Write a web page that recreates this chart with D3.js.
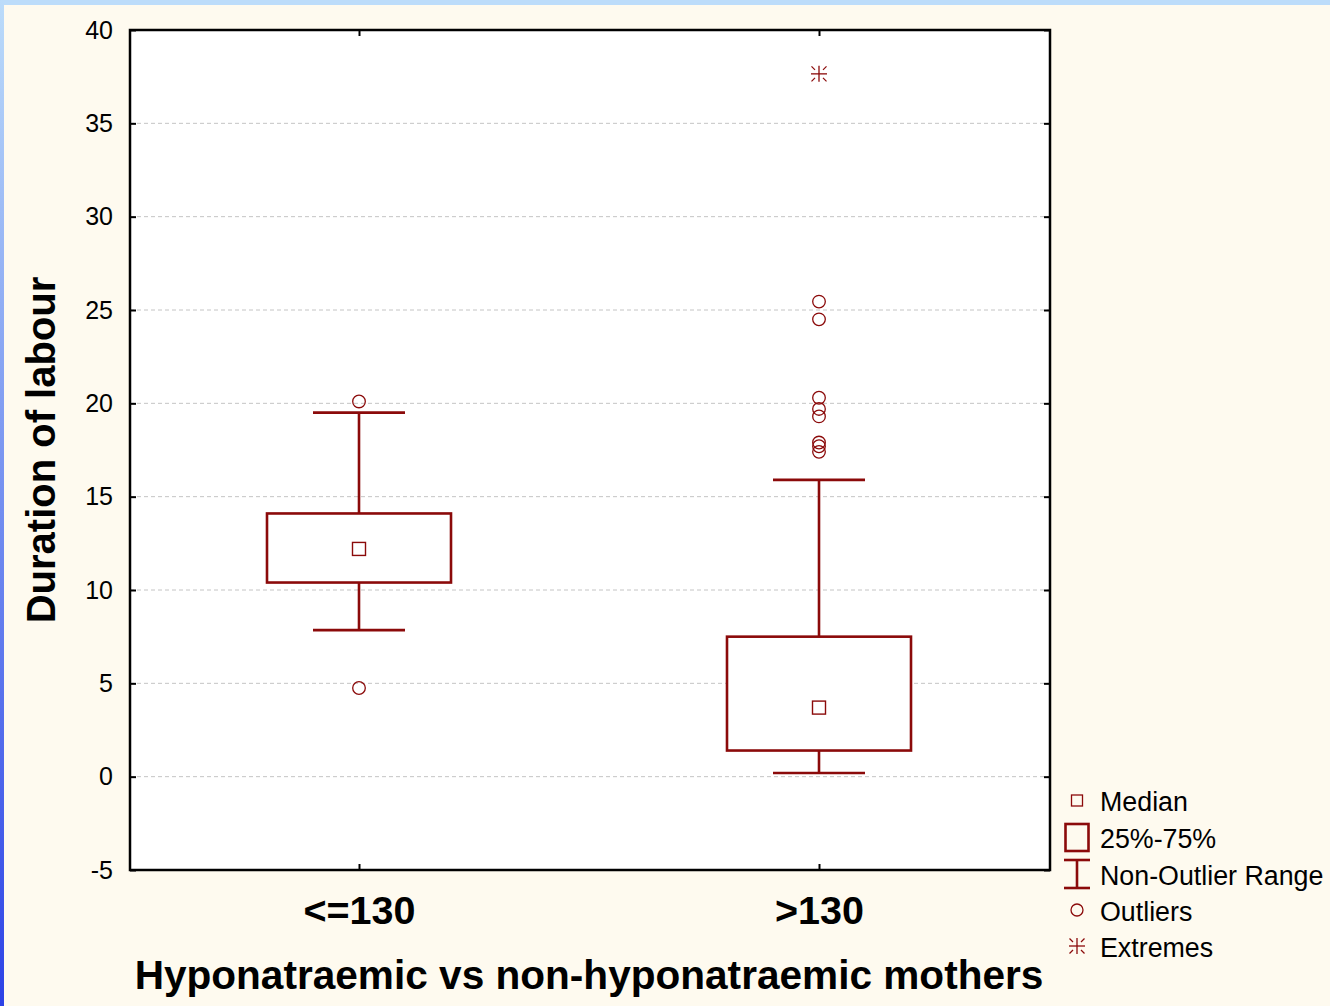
<!DOCTYPE html>
<html>
<head>
<meta charset="utf-8">
<script src="https://cdn.jsdelivr.net/npm/d3@7"></script>
<style>
  html, body { margin: 0; padding: 0; background: #fefaef; }
  svg { display: block; }
</style>
</head>
<body>
<svg id="chart" width="1330" height="1006"></svg>
<script>
// Groups and box-plot statistics (duration of labour, hours)
const categories = ["<=130", ">130"];
const medians = [12.2, 3.7];
const q1 = [10.4, 1.4];
const q3 = [14.1, 7.5];
const whiskerLow = [7.85, 0.2];
const whiskerHigh = [19.5, 15.9];
const outliers = [
  [20.1, 4.75],
  [25.45, 24.5, 20.3, 19.7, 19.3, 17.9, 17.7, 17.4]
];
const extremes = [
  [],
  [37.65]
];
const yTicks = [-5, 0, 5, 10, 15, 20, 25, 30, 35, 40];
const legendItems = ["Median", "25%-75%", "Non-Outlier Range", "Outliers", "Extremes"];

const W = 1330, H = 1006;
const plot = { left: 130, right: 1050, top: 30, bottom: 870 };
const RED = "#8b0a0a";
const FONT = "'Liberation Sans', Arial, sans-serif";

const svg = d3.select("#chart");

// Window frame: cream background with blue top band and gradient left band
const defs = svg.append("defs");
const grad = defs.append("linearGradient")
  .attr("id", "leftBand").attr("x1", 0).attr("y1", 0).attr("x2", 0).attr("y2", 1);
grad.append("stop").attr("offset", "0%").attr("stop-color", "#bcdcfa");
grad.append("stop").attr("offset", "100%").attr("stop-color", "#2c42e6");

svg.append("rect").attr("width", W).attr("height", H).attr("fill", "#fefaef");
svg.append("rect").attr("x", 0).attr("y", 0).attr("width", W).attr("height", 5).attr("fill", "#bcdcfa");
svg.append("rect").attr("x", 0).attr("y", 0).attr("width", 4).attr("height", H).attr("fill", "url(#leftBand)");

// Scales
const y = d3.scaleLinear().domain([-5, 40]).range([plot.bottom, plot.top]);
const x = d3.scalePoint().domain(categories).range([plot.left - 1, plot.right - 1]).padding(0.5);

// Plot area
svg.append("rect")
  .attr("x", plot.left).attr("y", plot.top)
  .attr("width", plot.right - plot.left).attr("height", plot.bottom - plot.top)
  .attr("fill", "#ffffff");

// Dashed grid lines
svg.append("g").selectAll("line")
  .data(yTicks.filter(t => t > -5 && t < 40))
  .join("line")
  .attr("x1", plot.left).attr("x2", plot.right)
  .attr("y1", d => y(d)).attr("y2", d => y(d))
  .attr("stroke", "#c4c4c4").attr("stroke-width", 1)
  .attr("stroke-dasharray", "4,3");

// Axes with inward ticks
const yLeft = svg.append("g")
  .attr("transform", `translate(${plot.left},0)`)
  .call(d3.axisLeft(y).tickValues(yTicks).tickSize(-6).tickPadding(17).tickFormat(d => String(d)));
const yRight = svg.append("g")
  .attr("transform", `translate(${plot.right},0)`)
  .call(d3.axisRight(y).tickValues(yTicks).tickSize(-6).tickFormat(""));
const xBottom = svg.append("g")
  .attr("transform", `translate(0,${plot.bottom})`)
  .call(d3.axisBottom(x).tickSize(-6).tickPadding(26));
const xTop = svg.append("g")
  .attr("transform", `translate(0,${plot.top})`)
  .call(d3.axisTop(x).tickSize(-6).tickFormat(""));

[yLeft, yRight, xBottom, xTop].forEach(g => {
  g.select(".domain").remove();
  g.selectAll(".tick line").attr("stroke", "#000").attr("stroke-width", 2);
});
yLeft.selectAll("text")
  .attr("font-family", FONT).attr("font-size", 25).attr("fill", "#000");
xBottom.selectAll("text")
  .attr("font-family", FONT).attr("font-size", 39.5).attr("font-weight", "bold").attr("fill", "#000")
  .attr("dy", "0.71em");

// Plot frame
svg.append("rect")
  .attr("x", plot.left).attr("y", plot.top)
  .attr("width", plot.right - plot.left).attr("height", plot.bottom - plot.top)
  .attr("fill", "none").attr("stroke", "#000").attr("stroke-width", 2.5);

// Box plots
const boxW = 184, capW = 92;
const boxes = svg.append("g");
categories.forEach((c, i) => {
  const cx = x(c);
  const g = boxes.append("g");
  // whisker stems
  g.append("line").attr("x1", cx).attr("x2", cx)
    .attr("y1", y(whiskerHigh[i])).attr("y2", y(q3[i]))
    .attr("stroke", RED).attr("stroke-width", 2.6);
  g.append("line").attr("x1", cx).attr("x2", cx)
    .attr("y1", y(q1[i])).attr("y2", y(whiskerLow[i]))
    .attr("stroke", RED).attr("stroke-width", 2.6);
  // whisker caps
  [whiskerHigh[i], whiskerLow[i]].forEach(v => {
    g.append("line").attr("x1", cx - capW / 2).attr("x2", cx + capW / 2)
      .attr("y1", y(v)).attr("y2", y(v))
      .attr("stroke", RED).attr("stroke-width", 2.6);
  });
  // interquartile box
  g.append("rect")
    .attr("x", cx - boxW / 2).attr("y", y(q3[i]))
    .attr("width", boxW).attr("height", y(q1[i]) - y(q3[i]))
    .attr("fill", "#fff").attr("stroke", RED).attr("stroke-width", 2.6);
  // median marker
  g.append("rect")
    .attr("x", cx - 6.5).attr("y", y(medians[i]) - 6.5)
    .attr("width", 13).attr("height", 13)
    .attr("fill", "none").attr("stroke", RED).attr("stroke-width", 1.4);
  // outliers
  g.selectAll("circle.out").data(outliers[i]).join("circle")
    .attr("class", "out")
    .attr("cx", cx).attr("cy", d => y(d)).attr("r", 6.3)
    .attr("fill", "none").attr("stroke", RED).attr("stroke-width", 1.3);
  // extremes
  extremes[i].forEach(v => drawStar(g, cx, y(v)));
});

function drawStar(g, cx, cy) {
  const s = g.append("g").attr("stroke", RED).attr("stroke-width", 1.3).attr("fill", "none");
  s.append("line").attr("x1", cx - 8).attr("x2", cx + 8).attr("y1", cy).attr("y2", cy);
  s.append("line").attr("x1", cx).attr("x2", cx).attr("y1", cy - 8).attr("y2", cy + 8);
  [[1, 1], [1, -1], [-1, 1], [-1, -1]].forEach(([a, b]) => {
    s.append("line")
      .attr("x1", cx + a * 4).attr("y1", cy + b * 4)
      .attr("x2", cx + a * 7.5).attr("y2", cy + b * 7.5);
  });
}

// Axis titles
svg.append("text")
  .attr("transform", "translate(55,450) rotate(-90)")
  .attr("text-anchor", "middle")
  .attr("font-family", FONT).attr("font-size", 40).attr("font-weight", "bold")
  .text("Duration of labour");
svg.append("text")
  .attr("x", 589).attr("y", 989)
  .attr("text-anchor", "middle")
  .attr("font-family", FONT).attr("font-size", 40.6).attr("font-weight", "bold")
  .text("Hyponatraemic vs non-hyponatraemic mothers");

// Legend
const legend = svg.append("g");
const rowY = [801, 838, 875, 911, 947];
const ix = 1077;
legendItems.forEach((t, i) => {
  legend.append("text")
    .attr("x", 1100).attr("y", rowY[i] + 10)
    .attr("font-family", FONT).attr("font-size", 26.8).attr("fill", "#000")
    .text(t);
});
legend.append("rect")
  .attr("x", ix - 5.5).attr("y", rowY[0] - 6).attr("width", 11).attr("height", 11)
  .attr("fill", "none").attr("stroke", RED).attr("stroke-width", 1.3);
legend.append("rect")
  .attr("x", ix - 11.5).attr("y", rowY[1] - 14).attr("width", 23).attr("height", 27)
  .attr("fill", "none").attr("stroke", RED).attr("stroke-width", 2.6);
legend.append("line").attr("x1", ix).attr("x2", ix).attr("y1", rowY[2] - 15).attr("y2", rowY[2] + 13)
  .attr("stroke", RED).attr("stroke-width", 2.6);
[rowY[2] - 15, rowY[2] + 13].forEach(v => {
  legend.append("line").attr("x1", ix - 13).attr("x2", ix + 13).attr("y1", v).attr("y2", v)
    .attr("stroke", RED).attr("stroke-width", 2.6);
});
legend.append("circle").attr("cx", ix).attr("cy", rowY[3] - 1).attr("r", 6)
  .attr("fill", "none").attr("stroke", RED).attr("stroke-width", 1.3);
drawStar(legend, ix, rowY[4] - 1);
</script>
</body>
</html>
